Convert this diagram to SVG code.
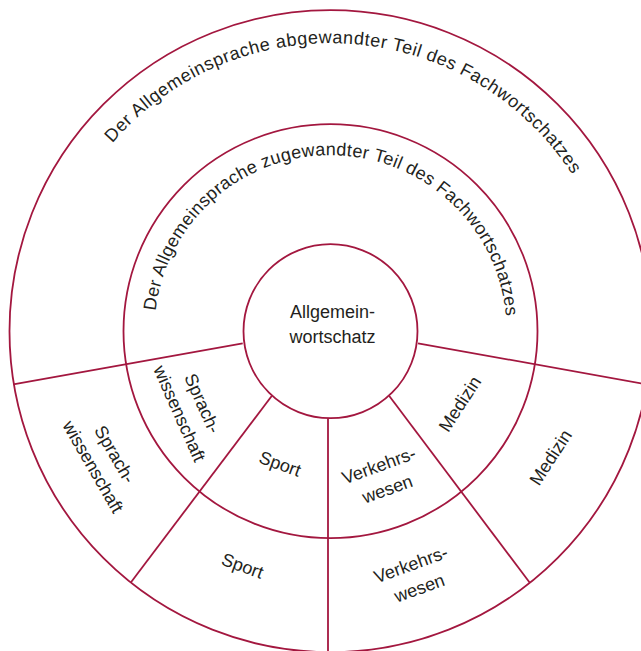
<svg xmlns="http://www.w3.org/2000/svg" width="641" height="651" viewBox="0 0 641 651">
<style>
.ring{fill:none;stroke:#a3173f;stroke-width:1.8}
.sp{stroke:#a3173f;stroke-width:1.8;fill:none}
text{font-family:"Liberation Sans",Arial,sans-serif;font-size:18px;fill:#231f20;text-anchor:middle}
.arc{letter-spacing:0.3px}
.arc2{letter-spacing:0.57px}
</style>
<defs>
<path id="arcOuter" d="M 42.5 331.2 A 288 288 0 0 1 618.5 331.2"/>
<path id="arcMiddle" d="M 154.5 331.2 A 176 176 0 0 1 506.5 331.2"/>
</defs>
<rect width="641" height="651" fill="#fff"/>
<g id="connectors">
<line class="sp" x1="242.7" y1="343.3" x2="13.3" y2="384.3"/>
<line class="sp" x1="418" y1="343.3" x2="660" y2="386.7"/>
<line class="sp" x1="271.7" y1="396" x2="131" y2="582.3"/>
<line class="sp" x1="389.3" y1="396" x2="530" y2="583"/>
<line class="sp" x1="328" y1="418.2" x2="328" y2="660"/>
</g>
<g id="outer-ring">
<circle class="ring" cx="330.5" cy="331.2" r="321"/>
<text class="arc2"><textPath href="#arcOuter" startOffset="52.2%">Der Allgemeinsprache abgewandter Teil des Fachwortschatzes</textPath></text>
</g>
<g id="middle-ring">
<circle class="ring" cx="330.5" cy="331.2" r="207"/>
<text class="arc"><textPath href="#arcMiddle" startOffset="50.5%">Der Allgemeinsprache zugewandter Teil des Fachwortschatzes</textPath></text>
</g>
<g id="core">
<circle class="ring" cx="330.5" cy="331.2" r="87" fill="#fff"/>
<text x="332.5" y="318.3">Allgemein-</text>
<text x="332.5" y="343.3">wortschatz</text>
</g>
<g id="inner-sprachwissenschaft">
<text transform="translate(191.3 408.3) rotate(66)"><tspan x="0" y="-6">Sprach-</tspan><tspan x="0" y="19">wissenschaft</tspan></text>
</g>
<g id="outer-sprachwissenschaft">
<text transform="translate(104.2 460.3) rotate(60)"><tspan x="0" y="-6">Sprach-</tspan><tspan x="0" y="19">wissenschaft</tspan></text>
</g>
<g id="inner-sport">
<text transform="translate(280 464) rotate(20)" y="6">Sport</text>
</g>
<g id="outer-sport">
<text transform="translate(242.5 566) rotate(20)" y="6">Sport</text>
</g>
<g id="inner-verkehrswesen">
<text transform="translate(383 477) rotate(-20)"><tspan x="0" y="-6">Verkehrs-</tspan><tspan x="0" y="19">wesen</tspan></text>
</g>
<g id="outer-verkehrswesen">
<text transform="translate(415 576) rotate(-20)"><tspan x="0" y="-6">Verkehrs-</tspan><tspan x="0" y="19">wesen</tspan></text>
</g>
<g id="inner-medizin">
<text transform="translate(460 404) rotate(-57)" y="6">Medizin</text>
</g>
<g id="outer-medizin">
<text transform="translate(550.8 457.5) rotate(-57)" y="6">Medizin</text>
</g>
</svg>
